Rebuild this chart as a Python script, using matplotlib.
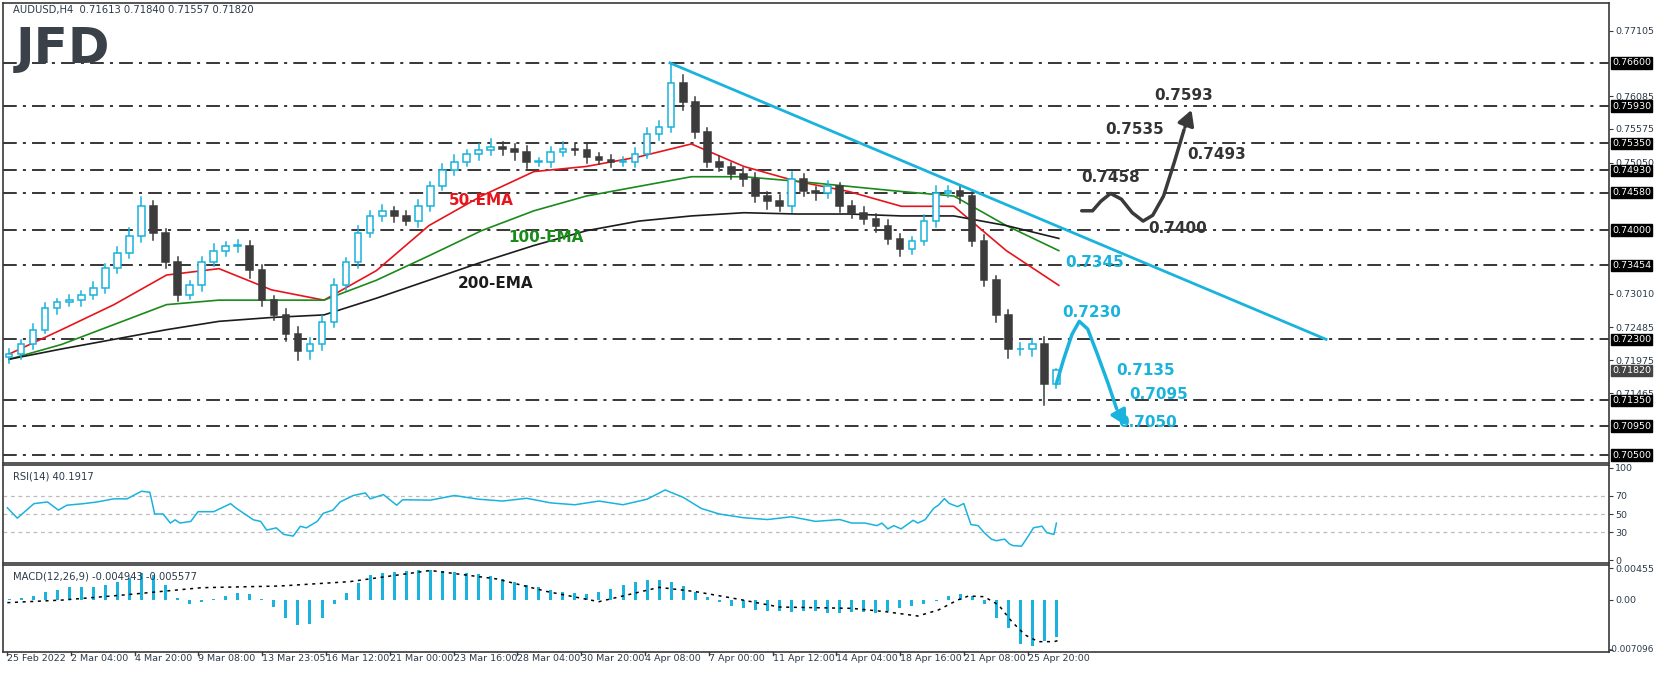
import matplotlib
matplotlib.use("Agg")
import matplotlib.pyplot as plt
import numpy as np

# ---------------- data ----------------
closes = [0.72069,0.72222,0.72453,0.72791,0.72883,0.72914,0.72990,0.73098,0.73405,0.73651,
          0.73912,0.74373,0.73958,0.73497,0.72990,0.73144,0.73497,0.73682,0.73758,0.73758,
          0.73374,0.72914,0.72683,0.72376,0.72115,0.72222,0.72576,0.73144,0.73497,0.73958,
          0.74219,0.74296,0.74219,0.74142,0.74373,0.74680,0.74941,0.75064,0.75187,0.75248,
          0.75294,0.75264,0.75218,0.75064,0.75064,0.75218,0.75264,0.75248,0.75141,0.75095,
          0.75064,0.75064,0.75187,0.75494,0.75602,0.76293,0.75986,0.75525,0.75064,0.74987,
          0.74880,0.74788,0.74526,0.74450,0.74373,0.74788,0.74603,0.74572,0.74680,0.74373,
          0.74265,0.74173,0.74066,0.73866,0.73712,0.73835,0.74142,0.74572,0.74603,0.74526,
          0.73835,0.73221,0.72683,0.72146,0.72146,0.72222,0.71610,0.71820]
wick_up = [8,6,9,7,5,8,6,10,7,9,12,14,8,6,9,7,8,10,6,9,7,8,6,9,12,10,8,9,7,10,
           8,9,6,8,9,7,8,10,6,9,12,8,7,9,6,8,11,7,9,6,8,7,9,10,9,30,12,8,7,9,
           6,8,10,7,9,12,8,7,9,6,8,10,7,9,8,6,9,12,8,10,7,9,6,8,10,9,12,2]
wick_dn = [9,7,8,6,10,7,9,6,8,7,9,10,12,8,10,7,9,6,8,10,12,9,8,10,14,12,9,8,7,9,
           6,8,10,7,9,8,6,9,7,10,8,9,12,10,7,9,6,8,10,7,9,6,8,7,9,8,12,10,9,7,
           8,10,9,12,8,9,7,10,8,9,7,8,10,9,12,8,7,9,6,10,8,9,12,14,9,10,33,6]

ema_t = [0,4.36,8.72,13.08,17.44,21.8,26.16,30.52,34.88,39.24,43.6,47.96,52.32,56.68,
         61.04,65.4,69.76,74.12,78.48,82.84,87.2]
ema50 = [0.7207,0.7245,0.7284,0.7330,0.7340,0.7307,0.7291,0.7337,0.7407,0.7453,0.7491,
         0.7499,0.7514,0.7534,0.7499,0.7476,0.7460,0.7437,0.7437,0.7368,0.7314]
ema100 = [0.7199,0.7222,0.7253,0.7284,0.7291,0.7291,0.7291,0.7322,0.7360,0.7399,0.7430,
          0.7453,0.7468,0.7483,0.7483,0.7476,0.7468,0.7460,0.7453,0.7407,0.7368]
ema200 = [0.7199,0.7215,0.7230,0.7245,0.7258,0.7264,0.7268,0.7294,0.7322,0.7350,0.7376,
          0.7399,0.7414,0.7422,0.7427,0.7425,0.7425,0.7422,0.7422,0.7407,0.7387]

levels = [0.7660,0.7593,0.7535,0.7493,0.7458,0.7400,0.73454,0.7230,0.7135,0.7095,0.7050]
level_labels = ["0.76600","0.75930","0.75350","0.74930","0.74580","0.74000","0.73454",
                "0.72300","0.71350","0.70950","0.70500"]
grid_ticks = [0.77105,0.76085,0.75575,0.75050,0.73010,0.72485,0.71975,0.71465]
last_price = 0.71820

trend_t = [54.9,109.4]
trend_p = [0.7660,0.7230]

bull_t = [89.1,90.0,90.7,91.5,92.4,93.3,94.2,95.0,95.9,96.8,97.6,98.3]
bull_p = [0.7430,0.7430,0.7445,0.7457,0.7448,0.7427,0.7414,0.7423,0.7453,0.7506,0.7556,0.7591]
bear_t = [87.0,87.6,88.3,88.9,89.6,90.4,91.3,92.0,92.9]
bear_p = [0.7161,0.7199,0.7238,0.7258,0.7246,0.7207,0.7161,0.7122,0.7092]

rsi_t = [-0.14,0.69,2.07,3.2,4.1,4.8,6.2,7.3,8.7,9.8,11.0,11.7,12.1,12.8,13.4,13.8,14.2,15.1,
         15.7,17.0,18.4,18.9,20.3,20.9,21.4,22.2,22.8,23.6,24.2,24.7,25.6,26.1,26.9,27.5,28.6,
         29.6,30.0,31.1,32.2,32.7,
         35,37,39,41,43,45,47,49,51,53,54.5,56,57.5,59,61,63,65,67,69,
         70.0,71.1,72.1,72.5,73.0,73.5,74.1,75.1,75.5,76.1,76.8,77.2,77.7,78.1,78.8,79.3,79.9,
         80.5,81.0,81.6,82.0,82.7,83.1,83.4,84.1,84.5,85.1,85.8,86.2,86.8,87.0]
rsi_v = [56.7,45.5,61.2,63,54.2,59.5,61.2,63,66.4,66.4,74.6,73.5,50.0,50.0,40.2,43.7,40.2,42,
         52.5,52.5,61.2,56,43.7,42,32.6,35,28,26.1,36.7,35,42,50.7,54.2,63,70,72.8,66.4,71,
         59.5,65.4,
         65,70,66,64,67,62,60,64,60,66,76,68,56,50,46,44,47,42,44,
         40.2,40.2,37.4,40.2,33.9,37.4,33.9,43.2,40.2,43.9,56.1,59.6,66.6,61.4,57.9,61.4,38.6,
         37.4,29.8,22.8,21.1,22.8,17.6,15.8,15.2,22.8,35.1,36.8,29.8,27.9,40.2]

macd_hist = [0.0002,0.0003,0.0006,0.0011,0.0014,0.0018,0.0019,0.0019,0.0022,0.0026,
             0.0031,0.0038,0.0036,0.0022,0.0003,-0.0006,-0.0003,0.0001,0.0006,0.0010,
             0.0008,0.0001,-0.0010,-0.0025,-0.0036,-0.0034,-0.0025,-0.0005,0.0010,0.0024,
             0.0036,0.0039,0.0040,0.0041,0.0042,0.0042,0.0041,0.0040,0.0039,0.0037,
             0.0034,0.0030,0.0026,0.0022,0.0018,0.0014,0.0011,0.0010,0.0009,0.0012,
             0.0016,0.0021,0.0025,0.0028,0.0029,0.0026,0.0020,0.0012,0.0004,-0.0003,
             -0.0008,-0.0012,-0.0014,-0.0015,-0.0016,-0.0017,-0.0015,-0.0016,-0.0018,-0.0018,
             -0.0017,-0.0017,-0.0018,-0.0016,-0.0012,-0.0008,-0.0005,-0.0002,0.0005,0.0008,
             0.0006,-0.0005,-0.0025,-0.0040,-0.0062,-0.0066,-0.0058,-0.0052]
sig_t = [-0.14,4.5,9.5,16,22.5,28.3,35,40.5,44.7,49,54,57,60,64,70.0,72.8,75.5,77.2,78.8,
         79.7,81.0,82.2,83.3,84.4,85.5,86.8,87.3]
sig_v = [-0.00038,0.0,0.00071,0.00175,0.00199,0.00261,0.0042,0.0030,0.0012,-0.00024,0.0018,
         0.0012,0.0003,-0.0010,-0.00119,-0.00166,-0.00228,-0.00142,0.0,0.00057,0.00047,
         -0.00071,-0.00308,-0.00498,-0.00593,-0.00593,-0.00569]
macd_ticks = [0.00455, 0.0, -0.007096]
macd_tick_labels = ["0.00455", "0.00", "-0.007096"]

date_labels = ["25 Feb 2022","2 Mar 04:00","4 Mar 20:00","9 Mar 08:00","13 Mar 23:05",
               "16 Mar 12:00","21 Mar 00:00","23 Mar 16:00","28 Mar 04:00","30 Mar 20:00",
               "4 Apr 08:00","7 Apr 00:00","11 Apr 12:00","14 Apr 04:00","18 Apr 16:00",
               "21 Apr 08:00","25 Apr 20:00"]

# ---------------- styling ----------------
UP = "#19b3dd"
DN = "#3c3c3c"
AXC = "#3a3a3a"
TXT = "#2b3a4a"
FS = 6.8
W, H = 1655, 673
fig = plt.figure(figsize=(W/100, H/100), dpi=100)
plt.rcParams['font.family'] = ['DejaVu Sans']

def rect(top, bot):
    return [3/W, (H-bot)/H, (1609-3)/W, (bot-top)/H]

ax = fig.add_axes(rect(3, 463))
ar = fig.add_axes(rect(465, 563), sharex=ax)
am = fig.add_axes(rect(565, 652), sharex=ax)
XL = (-0.5, 132.9)

for a in (ax, ar, am):
    for s in a.spines.values():
        s.set_color(AXC); s.set_linewidth(1.2)
    a.yaxis.tick_right()
    a.tick_params(axis='y', labelsize=FS, colors=AXC, labelcolor=TXT, length=3, pad=1.5)
    a.tick_params(axis='x', length=0, labelbottom=False)
    a.set_xlim(*XL)

# main panel
ax.set_ylim(0.70376, 0.77533)
opens = [closes[0] - 0.0004] + closes[:-1]
for i, (o, c) in enumerate(zip(opens, closes)):
    hi = max(o, c) + wick_up[i]*0.0001
    lo = min(o, c) - wick_dn[i]*0.0001
    up = c >= o
    col = UP if up else DN
    ax.plot([i, i], [lo, hi], color=col, lw=1.1, zorder=3)
    b = abs(c - o) if abs(c - o) > 0.00008 else 0.00008
    ax.bar(i, b, bottom=min(o, c), width=0.55, color="white" if up else DN,
           edgecolor=col, linewidth=1.1, zorder=4)

ax.plot(ema_t, ema50, color="#e8141c", lw=1.2, zorder=2)
ax.plot(ema_t, ema100, color="#1a8a1a", lw=1.2, zorder=2)
ax.plot(ema_t, ema200, color="#1c1c1c", lw=1.2, zorder=2)

for lv in levels:
    ax.axhline(lv, color="black", lw=1.1, ls=(0, (9, 4, 2, 4)), zorder=1)

ax.set_yticks(grid_ticks)
ax.set_yticklabels([f"{v:.5f}" for v in grid_ticks])
for lv, lab in zip(levels, level_labels):
    ax.text(1.002, lv, lab, transform=ax.get_yaxis_transform(), ha='left', va='center',
            fontsize=FS, color="white", zorder=10,
            bbox=dict(boxstyle="square,pad=0.12", fc="black", ec="black"))
ax.text(1.002, last_price, "0.71820", transform=ax.get_yaxis_transform(), ha='left',
        va='center', fontsize=FS, color="white", zorder=10,
        bbox=dict(boxstyle="square,pad=0.12", fc="#444444", ec="#444444"))

ax.plot(trend_t, trend_p, color=UP, lw=2, zorder=5)
ax.plot(bull_t[:-1], bull_p[:-1], color="#3a3a3a", lw=2.5, zorder=6, solid_capstyle='round')
ax.annotate("", xy=(bull_t[-1], bull_p[-1]), xytext=(bull_t[-2], bull_p[-2]),
            arrowprops=dict(arrowstyle="-|>,head_width=0.5,head_length=0.9",
                            color="#3a3a3a", lw=2.5), zorder=6)
ax.plot(bear_t[:-1], bear_p[:-1], color=UP, lw=2.5, zorder=6, solid_capstyle='round')
ax.annotate("", xy=(bear_t[-1], bear_p[-1]), xytext=(bear_t[-2], bear_p[-2]),
            arrowprops=dict(arrowstyle="-|>,head_width=0.5,head_length=0.9",
                            color=UP, lw=2.5), zorder=6)

bk = dict(fontsize=11, fontweight='bold', ha='center', va='center', zorder=7)
ax.text(39.2, 0.7446, "50-EMA", color="#e8141c", **bk)
ax.text(44.6, 0.7388, "100-EMA", color="#1a8a1a", **bk)
ax.text(40.4, 0.7317, "200-EMA", color="#1c1c1c", **bk)
for t, p, s in [(97.6, 0.7609, "0.7593"), (93.5, 0.7556, "0.7535"), (100.3, 0.7517, "0.7493"),
                (91.5, 0.7482, "0.7458"), (97.1, 0.7403, "0.7400")]:
    ax.text(t, p, s, color="#333333", **bk)
for t, p, s in [(90.2, 0.7350, "0.7345"), (89.9, 0.7271, "0.7230"), (94.4, 0.7182, "0.7135"),
                (95.5, 0.7144, "0.7095"), (94.6, 0.7101, "0.7050")]:
    ax.text(t, p, s, color=UP, **bk)

ax.text(0.006, 0.995, "AUDUSD,H4  0.71613 0.71840 0.71557 0.71820", transform=ax.transAxes,
        ha='left', va='top', fontsize=FS+0.4, color=TXT)
ax.text(0.008, 0.90, "JFD", transform=ax.transAxes, ha='left', va='center',
        fontsize=36, fontweight='bold', color="#3b4149", zorder=8)

# RSI
ar.set_ylim(-3, 103)
ar.set_yticks([0, 30, 50, 70, 100])
ar.set_yticklabels(["0", "30", "50", "70", "100"])
for lv in (30, 50, 70):
    ar.axhline(lv, color="#bbbbbb", lw=0.9, ls=(0, (3, 3)))
ar.plot(rsi_t, rsi_v, color=UP, lw=1.1)
ar.text(0.006, 0.93, "RSI(14) 40.1917", transform=ar.transAxes, ha='left', va='top',
        fontsize=FS+0.4, color=TXT)

# MACD
am.set_ylim(-0.00740, 0.00498)
am.set_yticks(macd_ticks)
am.set_yticklabels(macd_tick_labels[:2] + [""])
am.text(1654/W, -0.007096, macd_tick_labels[2], transform=fig.transFigure + 
        matplotlib.transforms.IdentityTransform() if False else am.get_yaxis_transform(),
        ha='left', va='center', fontsize=6.0, color=TXT) if False else None
am.annotate(macd_tick_labels[2], xy=(1.0, -0.007096), xycoords=am.get_yaxis_transform(),
            xytext=(1653, 0), textcoords=matplotlib.transforms.blended_transform_factory(
                matplotlib.transforms.IdentityTransform(), am.transData) if False else 'offset pixels',
            ha='left', va='center', fontsize=6.0, color=TXT) if False else None
yfig = (H - 650) / H
fig.text(1654/W, yfig, macd_tick_labels[2], ha='right', va='center', fontsize=6.4, color=TXT)
am.bar(np.arange(len(macd_hist)), macd_hist, width=0.25, color=UP, zorder=2)
am.plot(sig_t, sig_v, color="black", lw=1.1, ls=(0, (2, 3)), zorder=3)
am.text(0.006, 0.93, "MACD(12,26,9) -0.004943 -0.005577", transform=am.transAxes,
        ha='left', va='top', fontsize=FS+0.4, color=TXT)

# date ticks
tick_pos = [-0.17 + 5.30*k for k in range(len(date_labels))]
for tp, lab in zip(tick_pos, date_labels):
    am.plot([tp, tp], [-0.00740, -0.00740 - 0.0004], color=AXC, lw=1, clip_on=False)
    am.text(tp, -0.0077, lab, ha='left', va='top', fontsize=FS, color=TXT)

fig.savefig("out.png", dpi=100)
